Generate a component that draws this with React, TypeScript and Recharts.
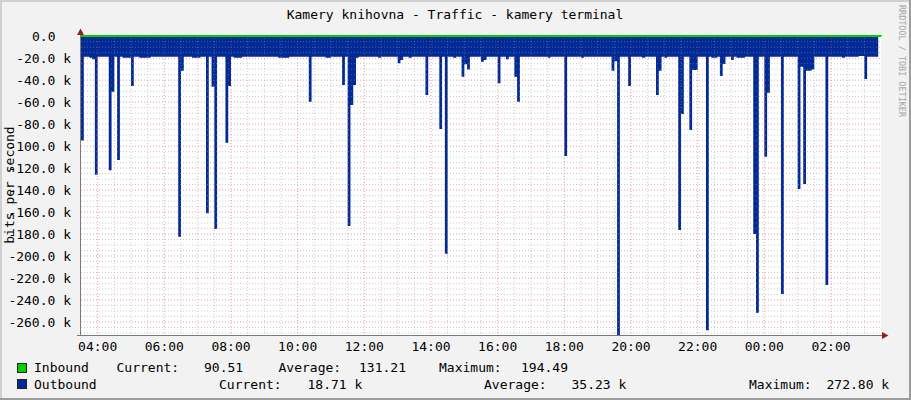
import React from 'react';
import { ComposedChart, Area, XAxis, YAxis, CartesianGrid, ReferenceLine } from 'recharts';

const FONT = '"DejaVu Sans Mono", "Liberation Mono", monospace';

// time axis: 5 minute rows starting 03:30 (hours as numbers, >24 = next day)
const START_HOUR = 3.5;
const STEP_MINUTES = 5;
const END_HOUR = 27.5;

// Outbound traffic, kbit/s (drawn negative, 5-minute rows, one row of 12 per hour)
const outboundK: number[] = [
  -95, -18.7, -18.7, -19.5, -21, -126, -18.7, -18.7, -18.7, -18.7, -122, -50.5,
  -18.7, -112.7, -18.7, -19.5, -19.5, -19.5, -45.3, -18.7, -18.7, -19.5, -19.5, -19.5,
  -19.5, -18.7, -18.7, -18.7, -18.7, -18.7, -18.7, -18.7, -18.7, -18.7, -18.7, -182.4,
  -31.4, -18.7, -18.7, -18.7, -19.5, -19.5, -19.5, -18.7, -18.7, -161.2, -18.7, -46,
  -175.5, -18.7, -18.7, -18.7, -96.9, -45.3, -18.7, -19.5, -19.5, -19.5, -18.7, -18.7,
  -18.7, -18.7, -18.7, -18.7, -18.7, -18.7, -18.7, -18.7, -18.7, -18.7, -18.7, -19.5,
  -19.5, -19.5, -19.5, -18.7, -18.7, -18.7, -18.7, -18.7, -18.7, -18.7, -59.6, -18.7,
  -18.7, -18.7, -18.7, -18.7, -19.5, -19.5, -18.7, -18.7, -18.7, -18.7, -44.4, -18.7,
  -172.7, -62.6, -44.4, -19.5, -18.7, -18.7, -18.7, -18.7, -18.7, -18.7, -18.7, -19.5,
  -18.7, -18.7, -18.7, -18.7, -18.7, -18.7, -24.7, -21.6, -18.7, -18.7, -19.5, -18.7,
  -18.7, -18.7, -18.7, -18.7, -53.5, -18.7, -18.7, -18.7, -18.7, -84.4, -18.7, -198,
  -18.7, -18.7, -19.5, -18.7, -18.7, -36.8, -25.6, -30.2, -18.7, -18.7, -18.7, -18.7,
  -23.2, -21.6, -18.7, -18.7, -18.7, -18.7, -42.9, -18.7, -18.7, -21, -18.7, -18.7,
  -36.8, -59.6, -18.7, -18.7, -18.7, -18.7, -18.7, -18.7, -18.7, -18.7, -18.7, -18.7,
  -19.5, -18.7, -18.7, -18.7, -18.7, -18.7, -109, -18.7, -18.7, -18.7, -18.7, -18.7,
  -19.5, -18.7, -18.7, -18.7, -18.7, -18.7, -18.7, -18.7, -18.7, -18.7, -18.7, -31.4,
  -22.8, -272.8, -18.7, -18.7, -18.7, -45.3, -18.7, -18.7, -18.7, -18.7, -19.5, -18.7,
  -18.7, -18.7, -18.7, -53.5, -31.4, -18.7, -19.5, -18.7, -18.7, -18.7, -18.7, -176.4,
  -70.8, -18.7, -18.7, -85.4, -30.8, -30.8, -18.7, -18.7, -18.7, -267.5, -18.7, -19.5,
  -19.5, -18.7, -36.2, -25.3, -18.7, -18.7, -21.6, -18.7, -19.5, -19.5, -19.5, -18.7,
  -18.7, -18.7, -180, -251.6, -18.7, -18.7, -109.6, -51.4, -18.7, -18.7, -18.7, -18.7,
  -234.6, -18.7, -18.7, -18.7, -18.7, -18.7, -139, -27.7, -134.5, -31.4, -31.4, -30.2,
  -18.7, -18.7, -18.7, -18.7, -226.4, -18.7, -18.7, -18.7, -18.7, -18.7, -19.5, -18.7,
  -18.7, -18.7, -18.7, -18.7, -18.0, -18.0, -39, -18.7, -18.7, -18.7, -18.71, -18.71,
];

// Inbound traffic, bit/s, hourly from 03:30
const inboundBits: number[] = [
  112, 125, 138, 120, 131, 145, 160, 194.49, 150, 142, 128, 135, 140,
  126, 118, 133, 148, 137, 122, 115, 124, 130, 110, 98, 90.51,
];

const timeTicks = [4, 6, 8, 10, 12, 14, 16, 18, 20, 22, 24, 26];
const timeTickLabels = ['04:00', '06:00', '08:00', '10:00', '12:00', '14:00', '16:00', '18:00', '20:00', '22:00', '00:00', '02:00'];
const valueTicks = [0, -20, -40, -60, -80, -100, -120, -140, -160, -180, -200, -220, -240, -260];
const valueTickLabels = ['0.0', '-20.0 k', '-40.0 k', '-60.0 k', '-80.0 k', '-100.0 k', '-120.0 k', '-140.0 k', '-160.0 k', '-180.0 k', '-200.0 k', '-220.0 k', '-240.0 k', '-260.0 k'];

const Y_DOMAIN: [number, number] = [-272.8, 0.19449];
const X_DOMAIN: [number, number] = [START_HOUR, END_HOUR];

// grid positions (values in axis units)
const minorTimeGrid: number[] = [];
for (let h = 4.5; h < END_HOUR; h += 0.5) {
  if (h % 2 !== 0) minorTimeGrid.push(h);
}
const majorValueGrid = valueTicks.filter((v) => v !== 0);
const minorValueGrid: number[] = [];
for (let v = -5; v >= -270; v -= 5) {
  if (v % 20 !== 0) minorValueGrid.push(v);
}

const legendIn = { name: 'Inbound', current: '90.51', average: '131.21', maximum: '194.49' };
const legendOut = { name: 'Outbound', current: '18.71 k', average: '35.23 k', maximum: '272.80 k' };

const outboundRows = outboundK.map((v, i) => ({ t: START_HOUR + (i * STEP_MINUTES) / 60, out: v }));
const inboundRows = inboundBits.map((v, i) => ({ t: START_HOUR + i, inK: v / 1000 }));

const BLUE = '#002A97';
const GREEN = '#00CF00';
const MINOR = { stroke: '#9A9A9A', strokeOpacity: 0.5, strokeDasharray: '1 2', strokeWidth: 1 };
const MAJOR = { stroke: '#E24A4A', strokeOpacity: 0.55, strokeDasharray: '1 2', strokeWidth: 1 };

const TimeTick = (props: any) => {
  const { x, payload } = props;
  const idx = timeTicks.indexOf(payload.value);
  return (
    <text x={x} y={351} textAnchor="middle" fontFamily={FONT} fontSize={13} fill="#000">
      {idx >= 0 ? timeTickLabels[idx] : ''}
    </text>
  );
};

const ValueTick = (props: any) => {
  const { y, payload } = props;
  const idx = valueTicks.indexOf(payload.value);
  const label = idx >= 0 ? valueTickLabels[idx] : '';
  const xEnd = payload.value === 0 ? 55.5 : 71;
  return (
    <text x={xEnd} y={y + 4.6} textAnchor="end" fontFamily={FONT} fontSize={13} fill="#000">
      {label}
    </text>
  );
};

const txt = (x: number, y: number, s: string) => (
  <text x={x} y={y} fontFamily={FONT} fontSize={13} fill="#000">{s}</text>
);

export default function App() {
  return (
    <div style={{ position: 'absolute', left: 0, top: 0, width: 911, height: 400, background: '#F2F2F2' }}>
      <ComposedChart
        width={911}
        height={400}
        data={outboundRows}
        margin={{ top: 36, right: 30, bottom: 0, left: 0 }}
      >
        <XAxis
          dataKey="t"
          type="number"
          domain={X_DOMAIN}
          ticks={timeTicks}
          interval={0}
          height={64}
          axisLine={false}
          tickLine={false}
          tick={TimeTick}
        />
        <YAxis
          type="number"
          domain={Y_DOMAIN}
          ticks={valueTicks}
          interval={0}
          width={81}
          axisLine={false}
          tickLine={false}
          tick={ValueTick}
        />
        <CartesianGrid horizontal={false} vertical={false} fill="#FFFFFF" stroke="none" />
        <Area
          type="stepAfter"
          dataKey="out"
          baseValue={0}
          fill={BLUE}
          fillOpacity={1}
          stroke="none"
          dot={false}
          activeDot={false}
          isAnimationActive={false}
        />
        <Area
          data={inboundRows}
          type="stepAfter"
          dataKey="inK"
          baseValue={0}
          fill={GREEN}
          fillOpacity={1}
          stroke={GREEN}
          strokeWidth={2}
          dot={false}
          activeDot={false}
          isAnimationActive={false}
        />
        {minorValueGrid.map((v) => (
          <ReferenceLine key={'my' + v} y={v} {...MINOR} zIndex={150} />
        ))}
        {minorTimeGrid.map((h) => (
          <ReferenceLine key={'mx' + h} x={h} {...MINOR} zIndex={150} />
        ))}
        {majorValueGrid.map((v) => (
          <ReferenceLine key={'My' + v} y={v} {...MAJOR} zIndex={160} />
        ))}
        {timeTicks.map((h) => (
          <ReferenceLine key={'Mx' + h} x={h} {...MAJOR} zIndex={160} />
        ))}
      </ComposedChart>
      <svg
        width={911}
        height={400}
        style={{ position: 'absolute', left: 0, top: 0, pointerEvents: 'none' }}
      >
        {/* frame */}
        <rect x={0} y={0} width={911} height={2} fill="#CFCFCF" />
        <rect x={0} y={0} width={2} height={400} fill="#CFCFCF" />
        <rect x={0} y={398} width={911} height={2} fill="#9C9C9C" />
        <rect x={909} y={0} width={2} height={400} fill="#9C9C9C" />
        {/* axes */}
        <line x1={80.5} y1={336} x2={80.5} y2={33} stroke="#7A7A7A" strokeWidth={1} />
        <line x1={77} y1={335.5} x2={883} y2={335.5} stroke="#7A7A7A" strokeWidth={1} />
        <polygon points="80.5,28.5 77,35 84,35" fill="#9B1B1B" />
        <polygon points="888.5,335.5 882,332 882,339" fill="#9B1B1B" />
        {/* title */}
        <text x={455} y={18.5} textAnchor="middle" fontFamily={FONT} fontSize={13} fill="#000">
          Kamery knihovna - Traffic - kamery terminal
        </text>
        {/* y axis title */}
        <text transform="translate(14,185) rotate(-90)" textAnchor="middle" fontFamily={FONT} fontSize={13} fill="#000">
          bits per second
        </text>
        {/* watermark */}
        <text
          transform="translate(898.5,61) rotate(90)"
          textAnchor="middle"
          fontFamily={FONT}
          fontSize={9.5}
          fill="#A5A5A5"
          textLength={112}
          lengthAdjust="spacingAndGlyphs"
        >
          RRDTOOL / TOBI OETIKER
        </text>
        {/* legend */}
        <rect x={17.5} y={363.5} width={9} height={9} fill={GREEN} stroke="#222" strokeWidth={1} />
        <rect x={17.5} y={379.5} width={9} height={9} fill={BLUE} stroke="#222" strokeWidth={1} />
        {txt(34, 372.3, legendIn.name)}
        {txt(116.5, 372.3, 'Current:')}
        {txt(204, 372.3, legendIn.current)}
        {txt(278.5, 372.3, 'Average:')}
        {txt(359, 372.3, legendIn.average)}
        {txt(439, 372.3, 'Maximum:')}
        {txt(521, 372.3, legendIn.maximum)}
        {txt(34, 388.7, legendOut.name)}
        {txt(219, 388.7, 'Current:')}
        {txt(307.5, 388.7, legendOut.current)}
        {txt(484, 388.7, 'Average:')}
        {txt(571.5, 388.7, legendOut.average)}
        {txt(749, 388.7, 'Maximum:')}
        {txt(826.5, 388.7, legendOut.maximum)}
      </svg>
    </div>
  );
}
